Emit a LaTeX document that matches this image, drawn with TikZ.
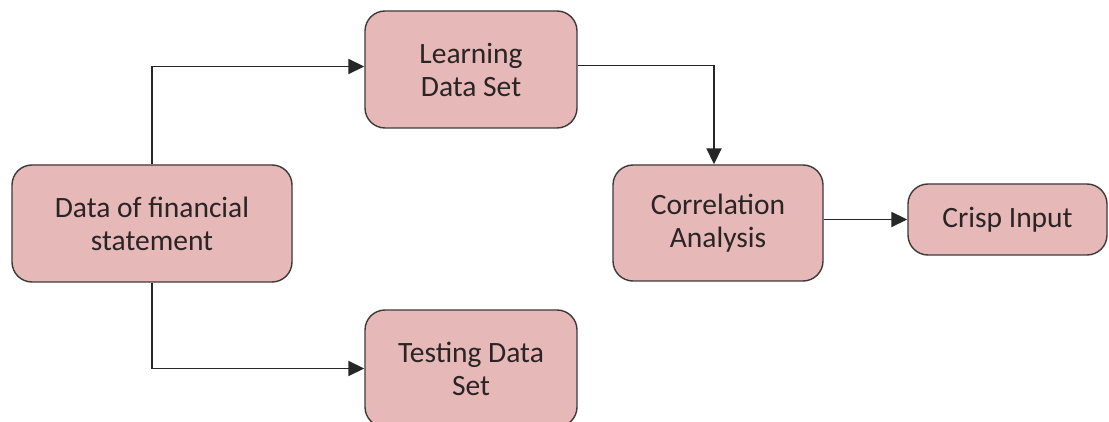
\documentclass[tikz,border=0pt]{standalone}
\usepackage{fontspec}
\setmainfont{Carlito}
\usetikzlibrary{arrows.meta,calc}
\definecolor{boxfill}{HTML}{E6B8B7}
\definecolor{boxline}{HTML}{3F3A3A}
\definecolor{txt}{HTML}{2A2424}
\tikzset{
  stepbox/.style={draw=boxline, line width=1.4pt, fill=boxfill, rounded corners=20pt,
    align=center, inner sep=0pt, font=\fontsize{29.5}{33}\selectfont, text=txt},
  conn/.style={draw=black!85, line width=1.8pt, -{Triangle[length=16pt,width=15pt]}}
}
\begin{document}
\begin{tikzpicture}[x=1pt,y=-1pt]
\useasboundingbox (0,0) rectangle (1109,422);
\clip (0,0) rectangle (1109,422);
\fill[white] (0,0) rectangle (1109,422);
\node[stepbox, minimum width=280pt, minimum height=117pt] (data) at (152,223.5) {Data of financial\\statement};
\node[stepbox, minimum width=212pt, minimum height=117pt] (learn) at (471,69.5) {Learning\\Data Set};
\node[stepbox, minimum width=212pt, minimum height=117pt] (test) at (471,368.5) {Testing Data\\Set};
\node[stepbox, minimum width=210pt, minimum height=116pt] (corr) at (718,223) {Correlation\\Analysis};
\node[stepbox, minimum width=199pt, minimum height=71pt] (crisp) at (1007.5,219.5) {Crisp Input};
\draw[conn] (data.north) |- ($(learn.west)+(0,-3)$);
\draw[conn] (data.south) |- (test.west);
\draw[conn] ($(learn.east)+(0,-4)$) -| ($(corr.north)+(-4,0)$);
\draw[conn] (corr.east |- crisp.west) -- (crisp.west);
\end{tikzpicture}
\end{document}
